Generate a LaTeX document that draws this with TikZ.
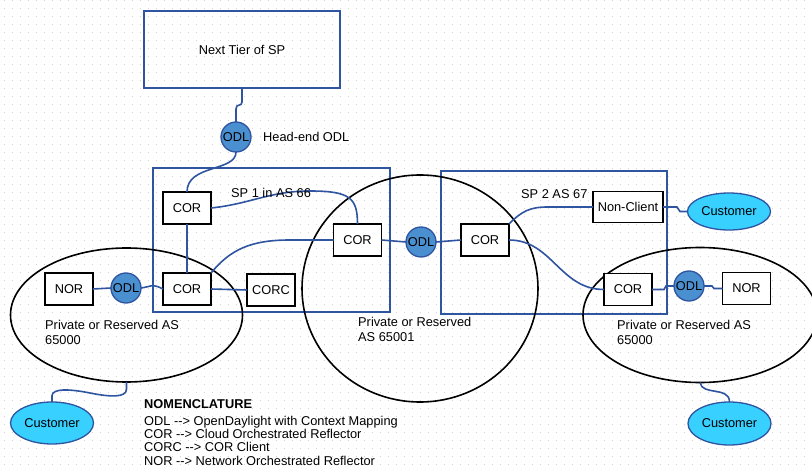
\documentclass[tikz,border=0pt]{standalone}
\usepackage{fontspec}
\setmainfont{Liberation Sans}
\usetikzlibrary{shapes.geometric}
\definecolor{lblue}{RGB}{47,84,160}
\definecolor{odlfill}{RGB}{74,144,208}
\definecolor{custfill}{RGB}{56,208,255}
\definecolor{dotgray}{RGB}{212,212,212}
\begin{document}
\begin{tikzpicture}[x=1pt,y=-1pt,
  font=\fontsize{12.8}{13.5}\selectfont,
  box/.style={draw=black, line width=1.6pt, fill=white, minimum width=48pt, minimum height=32pt, inner sep=0pt, outer sep=0pt},
  odl/.style={circle, draw=lblue, line width=1.3pt, fill=odlfill, minimum size=30pt, inner sep=0pt, outer sep=0pt},
  cust/.style={ellipse, draw=lblue, line width=1.3pt, fill=custfill, minimum width=83pt, minimum height=42pt, inner sep=0pt, outer sep=0pt},
  link/.style={draw=lblue, line width=1.6pt},
  region/.style={ellipse, draw=black, line width=1.6pt, inner sep=0pt, outer sep=0pt},
  spbox/.style={draw=lblue, line width=1.6pt, inner sep=0pt, outer sep=0pt},
  lbl/.style={anchor=west, inner sep=0pt, text height=9.2pt, text depth=0pt}]
\useasboundingbox (0,0) rectangle (812,470);
\fill[white] (0,0) rectangle (812,470);
\foreach \yy in {0.5,8.5,...,468.5}
  \draw[dotgray, line width=1pt, dash pattern=on 1pt off 7pt] (3.5,\yy) -- (812,\yy);

% containers
\node[spbox, minimum width=196pt, minimum height=77pt] (ntier) at (242,49.5) {Next Tier of SP};
\node[spbox, minimum width=237pt, minimum height=144pt] (sp1) at (271.5,240) {};
\node[spbox, minimum width=226pt, minimum height=143pt] (sp2) at (554,242.5) {};
\node[region, minimum width=232pt, minimum height=134pt] (pl) at (126.5,315) {};
\node[region, minimum width=236pt, minimum height=227pt] (pm) at (420,288.5) {};
\node[region, minimum width=234pt, minimum height=135pt] (pr) at (700,315) {};

% devices
\node[odl] (odlh) at (236,137) {ODL};
\node[box] (cor1) at (187,208) {COR};
\node[box] (cor2) at (187,289) {COR};
\node[box] (corc) at (271,290) {CORC};
\node[box] (nor1) at (69,289) {NOR};
\node[odl] (odl1) at (126,288) {ODL};
\node[box] (cor3) at (357.5,240) {COR};
\node[odl] (odl2) at (421,242) {ODL};
\node[box] (cor4) at (485,240) {COR};
\node[box, minimum width=70pt, minimum height=31pt] (nc) at (628,207) {Non-Client};
\node[cust, minimum height=37pt] (cust1) at (729,211.5) {Customer};
\node[box] (cor5) at (628,289.5) {COR};
\node[odl] (odl3) at (689,286) {ODL};
\node[box] (nor2) at (746.5,288.5) {NOR};
\node[cust] (cust2) at (52,423) {Customer};
\node[cust, minimum height=43pt] (cust3) at (729.5,423.5) {Customer};

% links
\draw[link] (ntier.south) -- (242,102) .. controls (242,107) and (236,103) .. (236,109) -- (odlh.north);
\draw[link] (odlh.south) .. controls (236,172) and (187,164) .. (cor1.north);
\draw[link] (cor1.east) .. controls (250,204) and (270,191) .. (310,191) .. controls (350,191) and (357.5,198) .. (cor3.north);
\draw[link] (cor1.south) -- (cor2.north);
\draw[link] (cor2.north east) .. controls (230,250) and (250,240) .. (290,240) -- (cor3.west);
\draw[link] (nor1.east) -- (odl1.west);
\draw[link] (odl1.east) .. controls (150,287) and (152,283) .. (cor2.west);
\draw[link] (cor2.east) -- (corc.west);
\draw[link] (cor3.east) -- (odl2.west);
\draw[link] (odl2.east) -- (cor4.west);
\draw[link] (cor4.north east) .. controls (522,211) and (530,207) .. (548,207) -- (nc.west);
\draw[link] (cor4.east) .. controls (552,240) and (560,289.5) .. (cor5.west);
\draw[link] (nc.east) -- (677,207) -- (680,211.5) -- (cust1.west);
\draw[link] (cor5.east) -- (664,289.5) -- (666,286) -- (odl3.west);
\draw[link] (odl3.east) -- (712,286) -- (714,288.5) -- (nor2.west);
\draw[link] (pl.south) -- (126.5,389) .. controls (126.5,398) and (110,397) .. (90,393) .. controls (70,389) and (52,388) .. (52,396) -- (cust2.north);
\draw[link] (pr.south) .. controls (702,396) and (729.5,386) .. (cust3.north);

% labels
\node[lbl] at (263,137) {Head-end ODL};
\node[lbl] at (231,193) {SP 1 in AS 66};
\node[lbl] at (521,194) {SP 2 AS 67};
\node[lbl] at (45,325) {Private or Reserved AS};
\node[lbl] at (45,340) {65000};
\node[lbl] at (358,322) {Private or Reserved};
\node[lbl] at (358,337) {AS 65001};
\node[lbl] at (617,325) {Private or Reserved AS};
\node[lbl] at (617,340) {65000};
\node[lbl, font=\fontsize{12.8}{13.5}\selectfont\bfseries] at (144,404) {NOMENCLATURE};
\node[lbl] at (144,421) {ODL -{}-> OpenDaylight with Context Mapping};
\node[lbl] at (144,433.5) {COR -{}-> Cloud Orchestrated Reflector};
\node[lbl] at (144,447) {CORC -{}-> COR Client};
\node[lbl] at (144,461) {NOR -{}-> Network Orchestrated Reflector};
\end{tikzpicture}
\end{document}
